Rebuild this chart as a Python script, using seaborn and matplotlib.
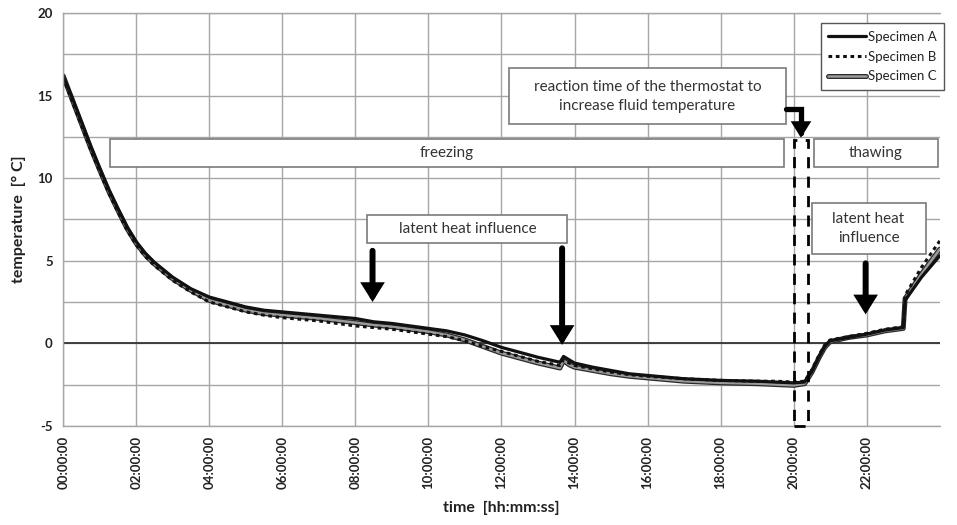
import matplotlib
matplotlib.use("Agg")
import matplotlib.pyplot as plt
import matplotlib.patheffects as pe
from matplotlib.patches import Rectangle
from matplotlib.ticker import FixedLocator, FuncFormatter, MultipleLocator
import pandas as pd
import seaborn as sns

# time in hours, temperature in deg C
hours = [0, 0.25, 0.5, 0.75, 1, 1.25, 1.5, 1.75, 2, 2.25, 2.5, 3, 3.5, 4, 4.5, 5, 5.5, 6, 7, 8,
         8.5, 9, 10, 10.5, 11, 11.5, 12, 12.5, 13, 13.5, 13.6, 13.7, 13.85, 14, 14.5, 15, 15.5,
         16, 17, 18, 19, 19.5, 20, 20.3, 20.5, 20.7, 20.85, 21, 21.5, 22, 22.5, 23, 23.05,
         23.5, 24]

spec_a = [16.2, 14.85, 13.4, 11.95, 10.6, 9.3, 8.15, 7.05, 6.15, 5.45, 4.9, 4.0, 3.3, 2.8, 2.5,
          2.2, 2.0, 1.9, 1.7, 1.5, 1.3, 1.2, 0.9, 0.75, 0.5, 0.15, -0.25, -0.55, -0.85, -1.1,
          -1.15, -0.8, -1.0, -1.2, -1.45, -1.65, -1.85, -1.95, -2.15, -2.25, -2.3, -2.35, -2.4,
          -2.35, -1.7, -0.8, -0.2, 0.15, 0.35, 0.55, 0.8, 0.95, 2.6, 4.0, 5.3]

spec_b = [16.1, 14.65, 13.2, 11.75, 10.4, 9.1, 7.95, 6.85, 5.95, 5.25, 4.7, 3.8, 3.1, 2.5, 2.2,
          1.9, 1.7, 1.55, 1.35, 1.05, 0.95, 0.85, 0.55, 0.4, 0.15, -0.2, -0.5, -0.8, -1.1, -1.3,
          -1.35, -1.0, -1.2, -1.35, -1.55, -1.75, -1.9, -2.0, -2.15, -2.25, -2.3, -2.3, -2.35,
          -2.3, -1.6, -0.7, -0.1, 0.2, 0.4, 0.6, 0.85, 1.0, 2.9, 4.6, 6.2]

spec_c = [16.2, 14.75, 13.3, 11.85, 10.5, 9.2, 8.05, 6.95, 6.05, 5.35, 4.8, 3.9, 3.2, 2.6, 2.3,
          2.0, 1.8, 1.7, 1.5, 1.25, 1.1, 1.0, 0.7, 0.5, 0.2, -0.2, -0.6, -0.9, -1.2, -1.45,
          -1.5, -1.05, -1.3, -1.45, -1.65, -1.85, -2.0, -2.1, -2.3, -2.4, -2.45, -2.5, -2.55,
          -2.45, -1.75, -0.85, -0.25, 0.1, 0.35, 0.5, 0.75, 0.9, 2.7, 4.2, 5.7]

tick_hours = [0, 2, 4, 6, 8, 10, 12, 14, 16, 18, 20, 22]

df = pd.DataFrame({"hours": hours, "Specimen A": spec_a,
                   "Specimen B": spec_b, "Specimen C": spec_c})

sns.set_style("white")
plt.rcParams["font.family"] = ["Lato", "DejaVu Sans"]
plt.rcParams["axes.unicode_minus"] = False

fig = plt.figure(figsize=(9.57, 5.25), dpi=100)
ax = fig.add_axes([0.066, 0.189, 0.916, 0.786])

grid_col = "#a6a6a6"

# curves
sns.lineplot(data=df, x="hours", y="Specimen C", ax=ax, color="#9a9a9a", lw=1.8,
             label="Specimen C",
             path_effects=[pe.Stroke(linewidth=3.6, foreground="#2a2a2a"), pe.Normal()])
sns.lineplot(data=df, x="hours", y="Specimen A", ax=ax, color="#111111", lw=2.3,
             label="Specimen A")
sns.lineplot(data=df, x="hours", y="Specimen B", ax=ax, color="#111111", lw=2.2,
             linestyle=(0, (1.2, 1.2)), label="Specimen B")

ax.axhline(0, color="#333333", lw=1.3, zorder=1)

# axes
ax.set_xlim(0, 24)
ax.set_ylim(-5, 20)
ax.xaxis.set_major_locator(FixedLocator(tick_hours))
ax.xaxis.set_major_formatter(FuncFormatter(lambda v, p: f"{int(round(v)):02d}:00:00"))
ax.yaxis.set_major_locator(MultipleLocator(5))
ax.yaxis.set_minor_locator(MultipleLocator(2.5))
ax.grid(True, which="both", axis="y", color=grid_col, lw=1.0)
ax.grid(True, which="major", axis="x", color=grid_col, lw=1.0)
ax.set_axisbelow(True)
for side in ["left", "bottom", "top"]:
    ax.spines[side].set_color(grid_col)
    ax.spines[side].set_linewidth(1.0)
ax.spines["right"].set_visible(False)
ax.tick_params(axis="both", which="major", length=4, color=grid_col, width=1.0,
               labelsize=9.5, labelcolor="#222222")
ax.tick_params(axis="y", which="minor", length=0)
ax.tick_params(axis="x", labelrotation=90)
for lab in ax.get_xticklabels() + ax.get_yticklabels():
    lab.set_fontweight("bold")

ax.set_xlabel("time  [hh:mm:ss]", fontsize=11.5, fontweight="bold", color="#222222", labelpad=8)
ax.set_ylabel("temperature  [° C]", fontsize=11.5, fontweight="bold", color="#222222", labelpad=8)

# annotation boxes
box_kw = dict(facecolor="white", edgecolor="#7a7a7a", lw=1.2, zorder=4)
txt_kw = dict(ha="center", va="center", fontsize=11, color="#333333", zorder=5)

def label_box(x0, x1, y0, y1, text):
    ax.add_patch(Rectangle((x0, y0), x1 - x0, y1 - y0, **box_kw))
    ax.text((x0 + x1) / 2, (y0 + y1) / 2, text, linespacing=1.45, **txt_kw)

label_box(1.28, 19.73, 10.65, 12.4, "freezing")
label_box(20.55, 23.96, 10.65, 12.4, "thawing")
label_box(12.21, 19.78, 13.26, 16.65, "reaction time of the thermostat to\nincrease fluid temperature")
label_box(8.33, 13.8, 6.05, 7.75, "latent heat influence")
label_box(20.49, 23.61, 5.39, 8.47, "latent heat\ninfluence")

# dashed region (thermostat reaction)
ax.add_patch(Rectangle((20.0, -5), 0.38, 17.3, fill=False, edgecolor="black",
                       lw=2.0, linestyle=(0, (4, 3)), zorder=5, clip_on=False))

# arrows
arr_kw = dict(arrowstyle="-|>,head_width=0.5,head_length=0.8", lw=4.3, color="black",
              mutation_scale=10, shrinkA=0, shrinkB=0, joinstyle="miter")
for x, y_tail, y_tip in [(8.47, 5.6, 2.5), (13.66, 5.75, -0.1), (21.97, 4.84, 1.75)]:
    ax.annotate("", xy=(x, y_tip), xytext=(x, y_tail), arrowprops=arr_kw, zorder=6)
ax.annotate("", xy=(20.2, 12.45), xytext=(19.8, 14.2),
            arrowprops=dict(arr_kw, connectionstyle="angle,angleA=0,angleB=90,rad=0",
                            mutation_scale=8, lw=3.8),
            zorder=6)

# legend in the original order A, B, C
handles, labels = ax.get_legend_handles_labels()
order = [labels.index(n) for n in ["Specimen A", "Specimen B", "Specimen C"]]
leg = ax.legend([handles[i] for i in order], [labels[i] for i in order],
                loc="upper right", bbox_to_anchor=(0.993, 0.968),
                bbox_transform=fig.transFigure, fontsize=9.5, handlelength=2.9,
                handletextpad=0.1, labelspacing=0.6, borderpad=0.55,
                fancybox=False, framealpha=1, edgecolor="#555555")
leg.get_frame().set_linewidth(1.0)
leg.set_zorder(7)
for t in leg.get_texts():
    t.set_color("#222222")

fig.savefig("out.png", dpi=100, facecolor="white")
